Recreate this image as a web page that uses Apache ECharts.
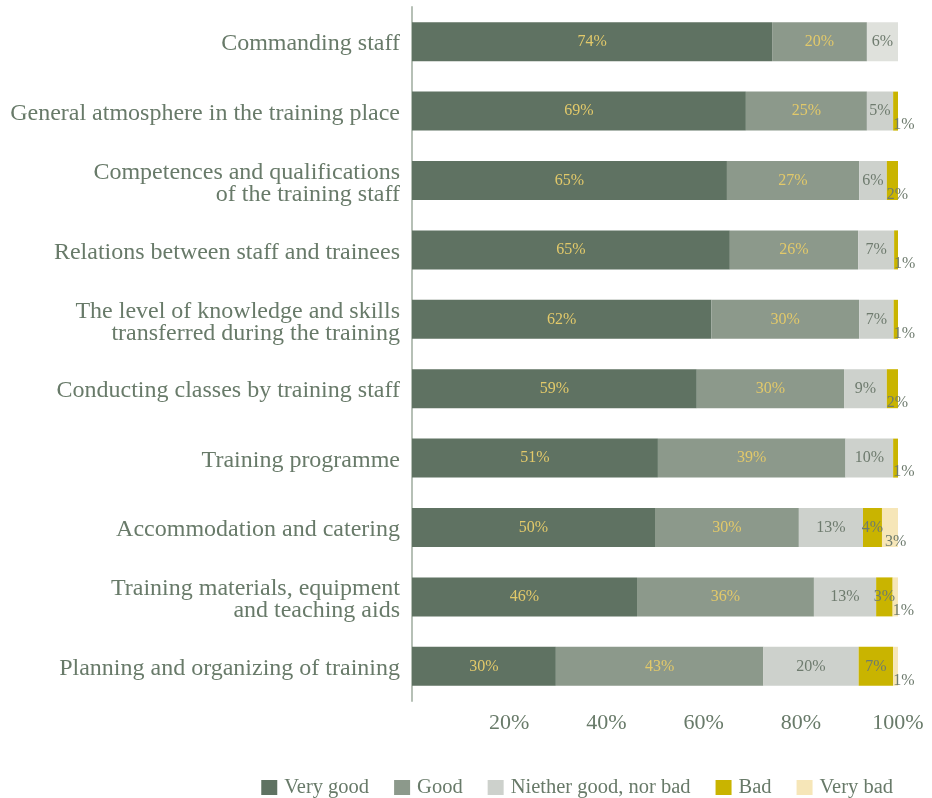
<!DOCTYPE html>
<html>
<head>
<meta charset="utf-8">
<title>Training evaluation</title>
<script src="https://cdn.jsdelivr.net/npm/echarts@6/dist/echarts.min.js"></script>
<style>
  html, body { margin: 0; padding: 0; background: #ffffff; }
  #chart { width: 932px; height: 798px; }
</style>
</head>
<body>
<div id="chart"></div>
<script>
// Survey aspects, top to bottom
const categories = [
  'Commanding staff',
  'General atmosphere in the training place',
  'Competences and qualifications\nof the training staff',
  'Relations between staff and trainees',
  'The level of knowledge and skills\ntransferred during the training',
  'Conducting classes by training staff',
  'Training programme',
  'Accommodation and catering',
  'Training materials, equipment\nand teaching aids',
  'Planning and organizing of training'
];

// Share of answers (%) per rating
const veryGood = [74.1, 68.7, 64.8, 65.4, 61.6, 58.6, 50.6, 50.0, 46.3, 29.6];
const good     = [19.5, 24.9, 27.2, 26.4, 30.4, 30.3, 38.6, 29.6, 36.4, 42.7];
const neither  = [6.4, 5.4, 5.7, 7.4, 7.1, 8.8, 9.8, 13.2, 12.8, 19.6];
const bad      = [null, 1.0, 2.3, 0.8, 0.9, 2.3, 1.0, 3.9, 3.4, 7.1];
const veryBad  = [null, null, null, null, null, null, null, 3.3, 1.1, 1.0];

const seriesNames = ['Very good', 'Good', 'Niether good, nor bad', 'Bad', 'Very bad'];
const colors = ['#5f7262', '#8c998b', '#cdd1cc', '#c9b400', '#f6e6b8'];

const FONT = "'Liberation Serif', 'DejaVu Serif', serif";
const TEXT = '#687a69';
const LABEL_LIGHT = '#e2c96a';
const LABEL_DARK = '#6e7b6e';

// Narrow segments get their label pushed below the bar end
const labelsBelow = {
  3: { 1: [0, 14], 2: [0, 14], 3: [0, 14], 4: [0, 14], 5: [0, 14], 6: [0, 14] },
  4: { 7: [3, 14], 8: [0, 14], 9: [0, 14] }
};

function buildData(values, sIdx) {
  return values.map((v, i) => {
    if (v === null) return '-';
    const item = { value: v };
    const off = labelsBelow[sIdx] && labelsBelow[sIdx][i];
    if (off) {
      item.label = {
        position: [0, '50%'],
        align: 'left',
        verticalAlign: 'middle',
        offset: off
      };
    }
    if (sIdx === 2 && i === 0) {
      item.itemStyle = { color: '#dfe1dc' };
    }
    return item;
  });
}

const allValues = [veryGood, good, neither, bad, veryBad];

const series = allValues.map((vals, sIdx) => ({
  name: seriesNames[sIdx],
  type: 'bar',
  stack: 'total',
  barWidth: 39,
  itemStyle: { color: colors[sIdx] },
  emphasis: { disabled: true },
  label: {
    show: true,
    position: 'inside',
    fontFamily: FONT,
    fontSize: 16,
    color: sIdx < 2 ? LABEL_LIGHT : LABEL_DARK,
    formatter: p => Math.round(p.value) + '%'
  },
  data: buildData(vals, sIdx)
}));

// Category label styles: text sits slightly below the bar centre
const catText = { fontFamily: FONT, fontSize: 24, color: TEXT };

const chart = echarts.init(document.getElementById('chart'), null, { renderer: 'canvas' });
chart.setOption({
  backgroundColor: '#ffffff',
  animation: false,
  color: colors,
  textStyle: { fontFamily: FONT },
  grid: { left: 412, right: 34, top: 7, bottom: 97, containLabel: false },
  xAxis: {
    type: 'value',
    min: 0,
    max: 100,
    interval: 20,
    axisLine: { show: false },
    axisTick: { show: false },
    splitLine: { show: false },
    axisLabel: {
      margin: 11,
      fontFamily: FONT,
      fontSize: 22,
      color: TEXT,
      formatter: v => (v === 0 ? '' : v + '%')
    }
  },
  yAxis: {
    type: 'category',
    inverse: true,
    data: categories,
    axisLine: { show: true, lineStyle: { color: '#b6c0b6', width: 2 } },
    axisTick: { show: false },
    splitLine: { show: false },
    axisLabel: {
      margin: 12,
      fontFamily: FONT,
      fontSize: 24,
      color: TEXT,
      align: 'right',
      formatter: v => {
        const lines = v.split('\n');
        if (lines.length === 1) return '{s|' + v + '}';
        return lines.map(s => '{m|' + s + '}').join('\n');
      },
      rich: {
        s: Object.assign({ lineHeight: 23, padding: [5, 0, 0, 0] }, catText),
        m: Object.assign({ lineHeight: 22, padding: [6, 0, 0, 0] }, catText)
      }
    }
  },
  legend: {
    right: 34,
    top: 772,
    icon: 'rect',
    itemWidth: 16,
    itemHeight: 15,
    itemGap: 25,
    selectedMode: false,
    textStyle: { fontFamily: FONT, fontSize: 20.5, color: TEXT, padding: [0, 0, 0, 2] },
    data: seriesNames
  },
  series: series
});
</script>
</body>
</html>
